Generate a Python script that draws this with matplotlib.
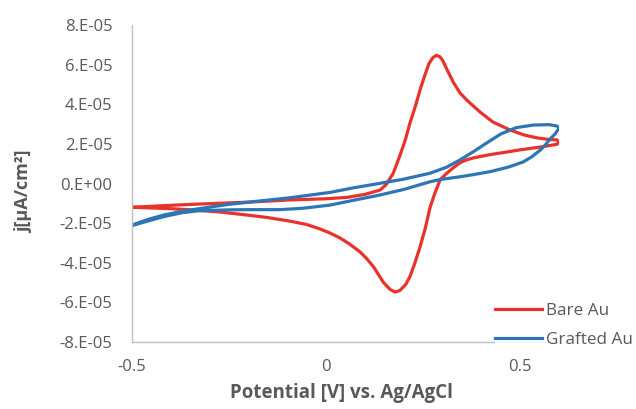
"""Cyclic voltammograms of bare and grafted Au electrodes"""
import matplotlib
matplotlib.use("Agg")
import matplotlib.pyplot as plt
from matplotlib.lines import Line2D

# Bare Au: forward scan (-0.5 -> 0.6 V), then reverse scan back to -0.5 V
bare_E = [-0.5, -0.4, -0.33, -0.2, -0.093, 0.0, 0.054, 0.10, 0.139, 0.155,
          0.173, 0.19, 0.204, 0.216, 0.23, 0.242, 0.255, 0.265, 0.275, 0.284,
          0.293, 0.30, 0.312, 0.328, 0.345, 0.363, 0.397, 0.43, 0.474, 0.51,
          0.544, 0.575, 0.595, 0.60,
          0.595, 0.552, 0.50, 0.466, 0.42, 0.379, 0.36, 0.345, 0.325, 0.31,
          0.294, 0.28, 0.268, 0.255, 0.242, 0.229, 0.216, 0.205, 0.19, 0.178,
          0.165, 0.148, 0.135, 0.122, 0.105, 0.088, 0.06, 0.036, 0.01, -0.015,
          -0.05, -0.093, -0.15, -0.2, -0.273, -0.332, -0.4, -0.5]
bare_j = [-1.2, -1.1, -1.04, -0.94, -0.83, -0.77, -0.70, -0.55, -0.33, -0.05,
          0.52, 1.4, 2.2, 3.05, 3.9, 4.72, 5.5, 6.05, 6.35, 6.47,
          6.4, 6.22, 5.73, 5.1, 4.57, 4.2, 3.6, 3.1, 2.7, 2.45,
          2.3, 2.22, 2.2, 2.1,
          1.98, 1.84, 1.7, 1.59, 1.45, 1.29, 1.18, 1.05, 0.75, 0.5,
          0.2, -0.5, -1.2, -2.3, -3.2, -4.0, -4.7, -5.1, -5.4, -5.48,
          -5.35, -5.0, -4.6, -4.2, -3.8, -3.46, -3.05, -2.75, -2.5, -2.3,
          -2.07, -1.9, -1.72, -1.6, -1.44, -1.35, -1.27, -1.2]

# Grafted Au: upper branch out to 0.6 V, lower branch back to -0.5 V
graft_E = [-0.5, -0.46, -0.42, -0.37, -0.33, -0.25, -0.17, -0.093, 0.01, 0.07,
           0.139, 0.2, 0.268, 0.31, 0.345, 0.379, 0.41, 0.45, 0.49, 0.534,
           0.575, 0.595, 0.60,
           0.59, 0.577, 0.565, 0.552, 0.53, 0.508, 0.47, 0.423, 0.38, 0.345,
           0.294, 0.268, 0.2, 0.139, 0.07, 0.01, -0.06, -0.119, -0.2, -0.25,
           -0.33, -0.37, -0.42, -0.46, -0.5]
graft_j = [-2.1, -1.82, -1.6, -1.4, -1.28, -1.05, -0.88, -0.72, -0.45, -0.22,
           0.01, 0.22, 0.52, 0.82, 1.19, 1.6, 2.0, 2.5, 2.82, 2.95,
           2.97, 2.9, 2.8,
           2.5, 2.25, 1.95, 1.69, 1.35, 1.09, 0.83, 0.6, 0.45, 0.34,
           0.2, 0.09, -0.3, -0.58, -0.85, -1.09, -1.25, -1.32, -1.32, -1.33,
           -1.38, -1.47, -1.68, -1.9, -2.12]

series_labels = ["Bare Au", "Grafted Au"]
x_ticks = [-0.5, 0.0, 0.5]
x_tick_labels = ["-0.5", "0", "0.5"]
y_ticks = [-8e-5, -6e-5, -4e-5, -2e-5, 0.0, 2e-5, 4e-5, 6e-5, 8e-5]
y_tick_labels = ["-8.E-05", "-6.E-05", "-4.E-05", "-2.E-05", "0.E+00",
                 "2.E-05", "4.E-05", "6.E-05", "8.E-05"]

RED = "#E8322B"
BLUE = "#2E75B6"
GREY = "#595959"
AXIS = "#BFBFBF"

plt.rcParams["font.family"] = ["Open Sans", "DejaVu Sans"]

fig = plt.figure(figsize=(6.36, 4.09), dpi=100)
ax = fig.add_axes([132 / 636, 1 - 342 / 409, (559 - 132) / 636, (342 - 25) / 409])

ax.plot(bare_E, [v * 1e-5 for v in bare_j], color=RED, lw=2.3,
        solid_joinstyle="round", label=series_labels[0])
ax.plot(graft_E, [v * 1e-5 for v in graft_j], color=BLUE, lw=2.3,
        solid_joinstyle="round", label=series_labels[1])

ax.set_xlim(-0.5, 0.6)
ax.set_ylim(-8e-5, 8e-5)
ax.set_xticks(x_ticks)
ax.set_xticklabels(x_tick_labels)
ax.set_yticks(y_ticks)
ax.set_yticklabels(y_tick_labels)
ax.tick_params(length=0, labelsize=12, labelcolor=GREY)
ax.tick_params(axis="x", pad=12)
ax.tick_params(axis="y", pad=14)

for side in ["top", "right"]:
    ax.spines[side].set_visible(False)
for side in ["left", "bottom"]:
    ax.spines[side].set_color(AXIS)
    ax.spines[side].set_linewidth(1.0)

ax.set_xlabel("Potential [V] vs. Ag/AgCl", fontsize=13.5, fontweight="bold",
              color=GREY)
ax.set_ylabel("j[µA/cm²]", fontsize=13, fontweight="bold", color=GREY)
ax.xaxis.set_label_coords((341 - 132) / 427, -(383 - 342) / 317)
ax.yaxis.set_label_coords((33 - 132) / 427, (342 - 192) / 317)

handles = [Line2D([], [], color=RED, lw=2.3), Line2D([], [], color=BLUE, lw=2.3)]
leg = fig.legend(handles, series_labels, loc="upper left",
                 bbox_to_anchor=(495 / 636, 1 - 303 / 409), frameon=True,
                 fontsize=12.3, handlelength=2.75, handletextpad=0.25,
                 labelspacing=0.75, borderpad=0.0, borderaxespad=0.0)
leg.get_frame().set_facecolor("white")
leg.get_frame().set_edgecolor("none")
for t in leg.get_texts():
    t.set_color(GREY)

fig.savefig("out.png", dpi=100)
